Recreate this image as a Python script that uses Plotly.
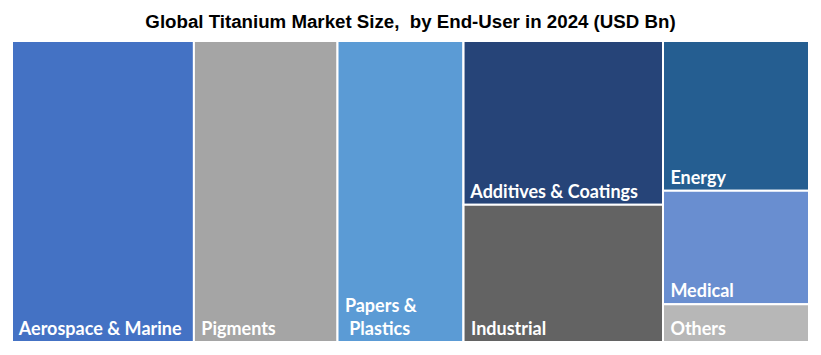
import plotly.graph_objects as go

# Data (USD Bn)
segments = ["Aerospace & Marine", "Pigments", "Papers &<br>\u00a0\u00a0Plastics",
            "Additives & Coatings", "Industrial", "Energy", "Medical", "Others"]
values = [22.8, 18.0, 15.8, 13.6, 11.4, 9.1, 6.9, 2.3]
groups = ["", "", "", "g4", "g4", "g5", "g5", "g5"]
colors = ["#4472C4", "#A5A5A5", "#5B9BD5", "#264478", "#636363",
          "#255E91", "#698ED0", "#B7B7B7"]

# Build hierarchy in display order (group node placed before its first child)
ids, labels, parents, vals, cols, texts = [], [], [], [], [], []
seen = set()
for i, seg in enumerate(segments):
    g = groups[i]
    if g and g not in seen:
        seen.add(g)
        ids.append(g); labels.append(""); parents.append("")
        vals.append(0); cols.append("#FFFFFF"); texts.append("")
    ids.append(f"leaf{i}")
    labels.append(seg)
    parents.append(g)
    vals.append(values[i])
    cols.append(colors[i])
    texts.append("\u00a0" + seg)

fig = go.Figure(go.Treemap(
    ids=ids,
    labels=labels,
    parents=parents,
    values=vals,
    branchvalues="remainder",
    sort=False,
    text=texts,
    texttemplate="%{text}",
    textposition="bottom left",
    textfont=dict(family="Lato", size=18, color="white", weight="bold"),
    marker=dict(colors=cols, line=dict(color="white", width=2),
                pad=dict(t=0, l=0, r=0, b=0)),
    tiling=dict(packing="slice-dice", pad=0),
    pathbar=dict(visible=False),
    hoverinfo="label+value",
))

fig.update_layout(
    width=805, height=339,
    margin=dict(l=4, r=4, t=33, b=5),
    paper_bgcolor="white",
    title=dict(text="<b>Global Titanium Market Size,  by End-User in 2024 (USD Bn)</b>",
               x=0.5, xanchor="center", y=1 - 13 / 339, yanchor="middle",
               yref="container",
               font=dict(family="Liberation Sans", size=18.7, color="black")),
)

fig.write_html("out.html")
